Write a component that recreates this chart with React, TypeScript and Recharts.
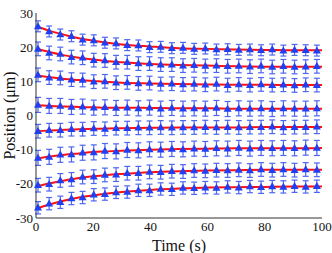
import { ComposedChart, Line, ErrorBar, XAxis, YAxis } from "recharts";

// sample times (s) of the measured points
const times = [
  0.7, 4.6, 8.5, 12.4, 16.3, 20.2, 24.1, 28.0, 31.9, 35.8, 39.7, 43.6, 47.5,
  51.4, 55.3, 59.2, 63.1, 67.0, 70.9, 74.8, 78.7, 82.6, 86.5, 90.4, 94.3, 98.2,
];

// measured positions (um), one array per bead
const bead1 = [26.1, 24.6, 23.7, 23.2, 22.2, 22.0, 21.3, 21.1, 20.6, 20.5, 20.0, 20.1, 19.7, 19.8, 19.5, 19.6, 19.3, 19.4, 19.2, 19.3, 19.1, 19.3, 19.0, 19.2, 19.1, 19.0];
const bead2 = [19.5, 18.3, 18.0, 17.1, 16.9, 16.2, 16.1, 15.6, 15.6, 15.2, 15.2, 14.9, 14.9, 14.6, 14.7, 14.5, 14.6, 14.4, 14.5, 14.3, 14.5, 14.2, 14.4, 14.2, 14.3, 14.4];
const bead3 = [11.9, 11.1, 11.0, 10.5, 10.4, 9.9, 10.0, 9.6, 9.7, 9.4, 9.5, 9.2, 9.3, 9.1, 9.2, 9.0, 9.2, 8.9, 9.1, 8.9, 9.1, 8.9, 9.0, 8.8, 9.0, 8.9];
const bead4 = [3.1, 2.8, 2.8, 2.5, 2.6, 2.3, 2.4, 2.2, 2.3, 2.1, 2.3, 2.0, 2.2, 2.0, 2.1, 2.0, 2.2, 1.9, 2.1, 2.0, 2.1, 1.9, 2.1, 2.0, 2.0, 2.1];
const bead5 = [-4.6, -4.3, -4.3, -4.0, -4.0, -3.8, -3.9, -3.7, -3.7, -3.6, -3.6, -3.5, -3.6, -3.5, -3.5, -3.4, -3.5, -3.4, -3.5, -3.4, -3.4, -3.3, -3.5, -3.4, -3.4, -3.3];
const bead6 = [-12.4, -12.1, -11.5, -11.4, -10.9, -10.8, -10.4, -10.5, -10.1, -10.2, -9.9, -10.0, -9.8, -9.9, -9.7, -9.8, -9.6, -9.7, -9.5, -9.7, -9.5, -9.6, -9.5, -9.6, -9.4, -9.5];
const bead7 = [-20.4, -20.1, -19.0, -18.7, -18.0, -17.9, -17.4, -17.3, -16.9, -16.9, -16.5, -16.6, -16.3, -16.4, -16.1, -16.2, -16.0, -16.1, -15.9, -16.1, -15.8, -16.0, -15.8, -16.0, -15.8, -15.9];
const bead8 = [-27.0, -25.8, -25.4, -24.3, -24.0, -23.2, -23.0, -22.5, -22.4, -21.9, -21.9, -21.5, -21.6, -21.2, -21.3, -21.1, -21.2, -20.9, -21.1, -20.8, -21.0, -20.8, -20.9, -20.7, -20.9, -20.7];

// half error bar per bead (um)
const errors = [1.6, 2.0, 2.0, 2.2, 2.0, 2.2, 2.0, 1.8];

// fitted curves
const fitTimes = [0, 5, 10, 15, 20, 25, 30, 40, 50, 60, 70, 80, 90, 100];
const fit1 = [26.2, 24.7, 23.6, 22.6, 21.9, 21.3, 20.8, 20.2, 19.7, 19.5, 19.3, 19.2, 19.1, 19.1];
const fit2 = [19.6, 18.5, 17.6, 16.9, 16.4, 15.9, 15.6, 15.1, 14.8, 14.6, 14.4, 14.3, 14.3, 14.3];
const fit3 = [11.8, 11.2, 10.7, 10.4, 10.1, 9.8, 9.6, 9.4, 9.2, 9.1, 9.0, 9.0, 8.9, 8.9];
const fit4 = [3.0, 2.8, 2.6, 2.5, 2.4, 2.3, 2.3, 2.2, 2.1, 2.1, 2.0, 2.0, 2.0, 2.0];
const fit5 = [-4.6, -4.4, -4.2, -4.0, -3.9, -3.8, -3.7, -3.6, -3.5, -3.5, -3.5, -3.4, -3.4, -3.4];
const fit6 = [-12.6, -12.0, -11.5, -11.1, -10.7, -10.5, -10.3, -10.0, -9.8, -9.7, -9.6, -9.6, -9.6, -9.5];
const fit7 = [-20.8, -19.8, -19.0, -18.3, -17.8, -17.4, -17.1, -16.6, -16.3, -16.1, -16.0, -15.9, -15.9, -15.9];
const fit8 = [-27.3, -26.0, -24.9, -24.0, -23.4, -22.8, -22.4, -21.8, -21.4, -21.1, -21.0, -20.9, -20.8, -20.8];

const xTicks = [0, 20, 40, 60, 80, 100];
const yTicks = [-30, -20, -10, 0, 10, 20, 30];

const beads = [bead1, bead2, bead3, bead4, bead5, bead6, bead7, bead8];
const fits = [fit1, fit2, fit3, fit4, fit5, fit6, fit7, fit8];

const dataRows = times.map((t, i) => {
  const row: Record<string, number> = { t };
  beads.forEach((b, j) => {
    row["y" + j] = b[i];
    row["e" + j] = errors[j];
  });
  return row;
});

const fitRows = fitTimes.map((t, i) => {
  const row: Record<string, number> = { t };
  fits.forEach((f, j) => {
    row["f" + j] = f[i];
  });
  return row;
});

const font = "'Liberation Serif', 'Times New Roman', 'DejaVu Serif', serif";
const axisColor = "#333333";

const Triangle = (props: any) => {
  const { cx, cy } = props;
  if (cx == null || cy == null) return null;
  return (
    <polygon
      points={`${cx},${cy - 4.2} ${cx - 4},${cy + 2.8} ${cx + 4},${cy + 2.8}`}
      fill="#1f3ff5"
    />
  );
};

export default function App() {
  return (
    <div style={{ position: "absolute", left: 0, top: 0, fontFamily: font }}>
      <ComposedChart
        width={332}
        height={253}
        margin={{ top: 13, right: 10, left: 0, bottom: 0 }}
      >
        <XAxis
          dataKey="t"
          type="number"
          domain={[0, 100]}
          ticks={xTicks}
          height={35}
          tickSize={0}
          tickMargin={4}
          tickLine={false}
          stroke={axisColor}
          tick={{ fill: "#111", fontSize: 13, fontFamily: font }}
          label={{
            value: "Time (s)",
            position: "insideBottom",
            offset: 2,
            fill: "#111",
            fontSize: 16,
            fontFamily: font,
          }}
        />
        <XAxis
          xAxisId="bin"
          type="number"
          orientation="bottom"
          mirror
          domain={[0, 100]}
          ticks={xTicks}
          height={0}
          tick={false}
          axisLine={false}
          tickSize={4}
          stroke={axisColor}
        />
        <XAxis
          xAxisId="top"
          type="number"
          orientation="top"
          mirror
          domain={[0, 100]}
          ticks={xTicks}
          height={0}
          tick={false}
          tickSize={4}
          stroke={axisColor}
        />
        <YAxis
          type="number"
          domain={[-30, 30]}
          ticks={yTicks}
          width={36}
          tickSize={0}
          tickMargin={3}
          tickLine={false}
          stroke={axisColor}
          tick={{ fill: "#111", fontSize: 13, fontFamily: font }}
          label={{
            value: "Position (μm)",
            angle: -90,
            position: "insideLeft",
            offset: 9,
            fill: "#111",
            fontSize: 16,
            fontFamily: font,
            style: { textAnchor: "middle" },
          }}
        />
        <YAxis
          yAxisId="lin"
          type="number"
          orientation="left"
          mirror
          domain={[-30, 30]}
          ticks={yTicks}
          width={0}
          tick={false}
          axisLine={false}
          tickSize={4}
          stroke={axisColor}
        />
        <YAxis
          yAxisId="right"
          type="number"
          orientation="right"
          mirror
          domain={[-30, 30]}
          ticks={yTicks}
          width={0}
          tick={false}
          tickSize={4}
          stroke={axisColor}
        />
        {beads.map((_, j) => (
          <Line
            key={"d" + j}
            data={dataRows}
            dataKey={"y" + j}
            stroke="none"
            dot={<Triangle />}
            activeDot={false}
            isAnimationActive={false}
          >
            <ErrorBar
              dataKey={"e" + j}
              direction="y"
              width={3}
              stroke="#4d66f0"
              strokeWidth={1.2}
            />
          </Line>
        ))}
        {fits.map((_, j) => (
          <Line
            key={"f" + j}
            data={fitRows}
            dataKey={"f" + j}
            type="monotone"
            stroke="#ff1010"
            strokeWidth={2}
            dot={false}
            activeDot={false}
            isAnimationActive={false}
          />
        ))}
      </ComposedChart>
    </div>
  );
}
